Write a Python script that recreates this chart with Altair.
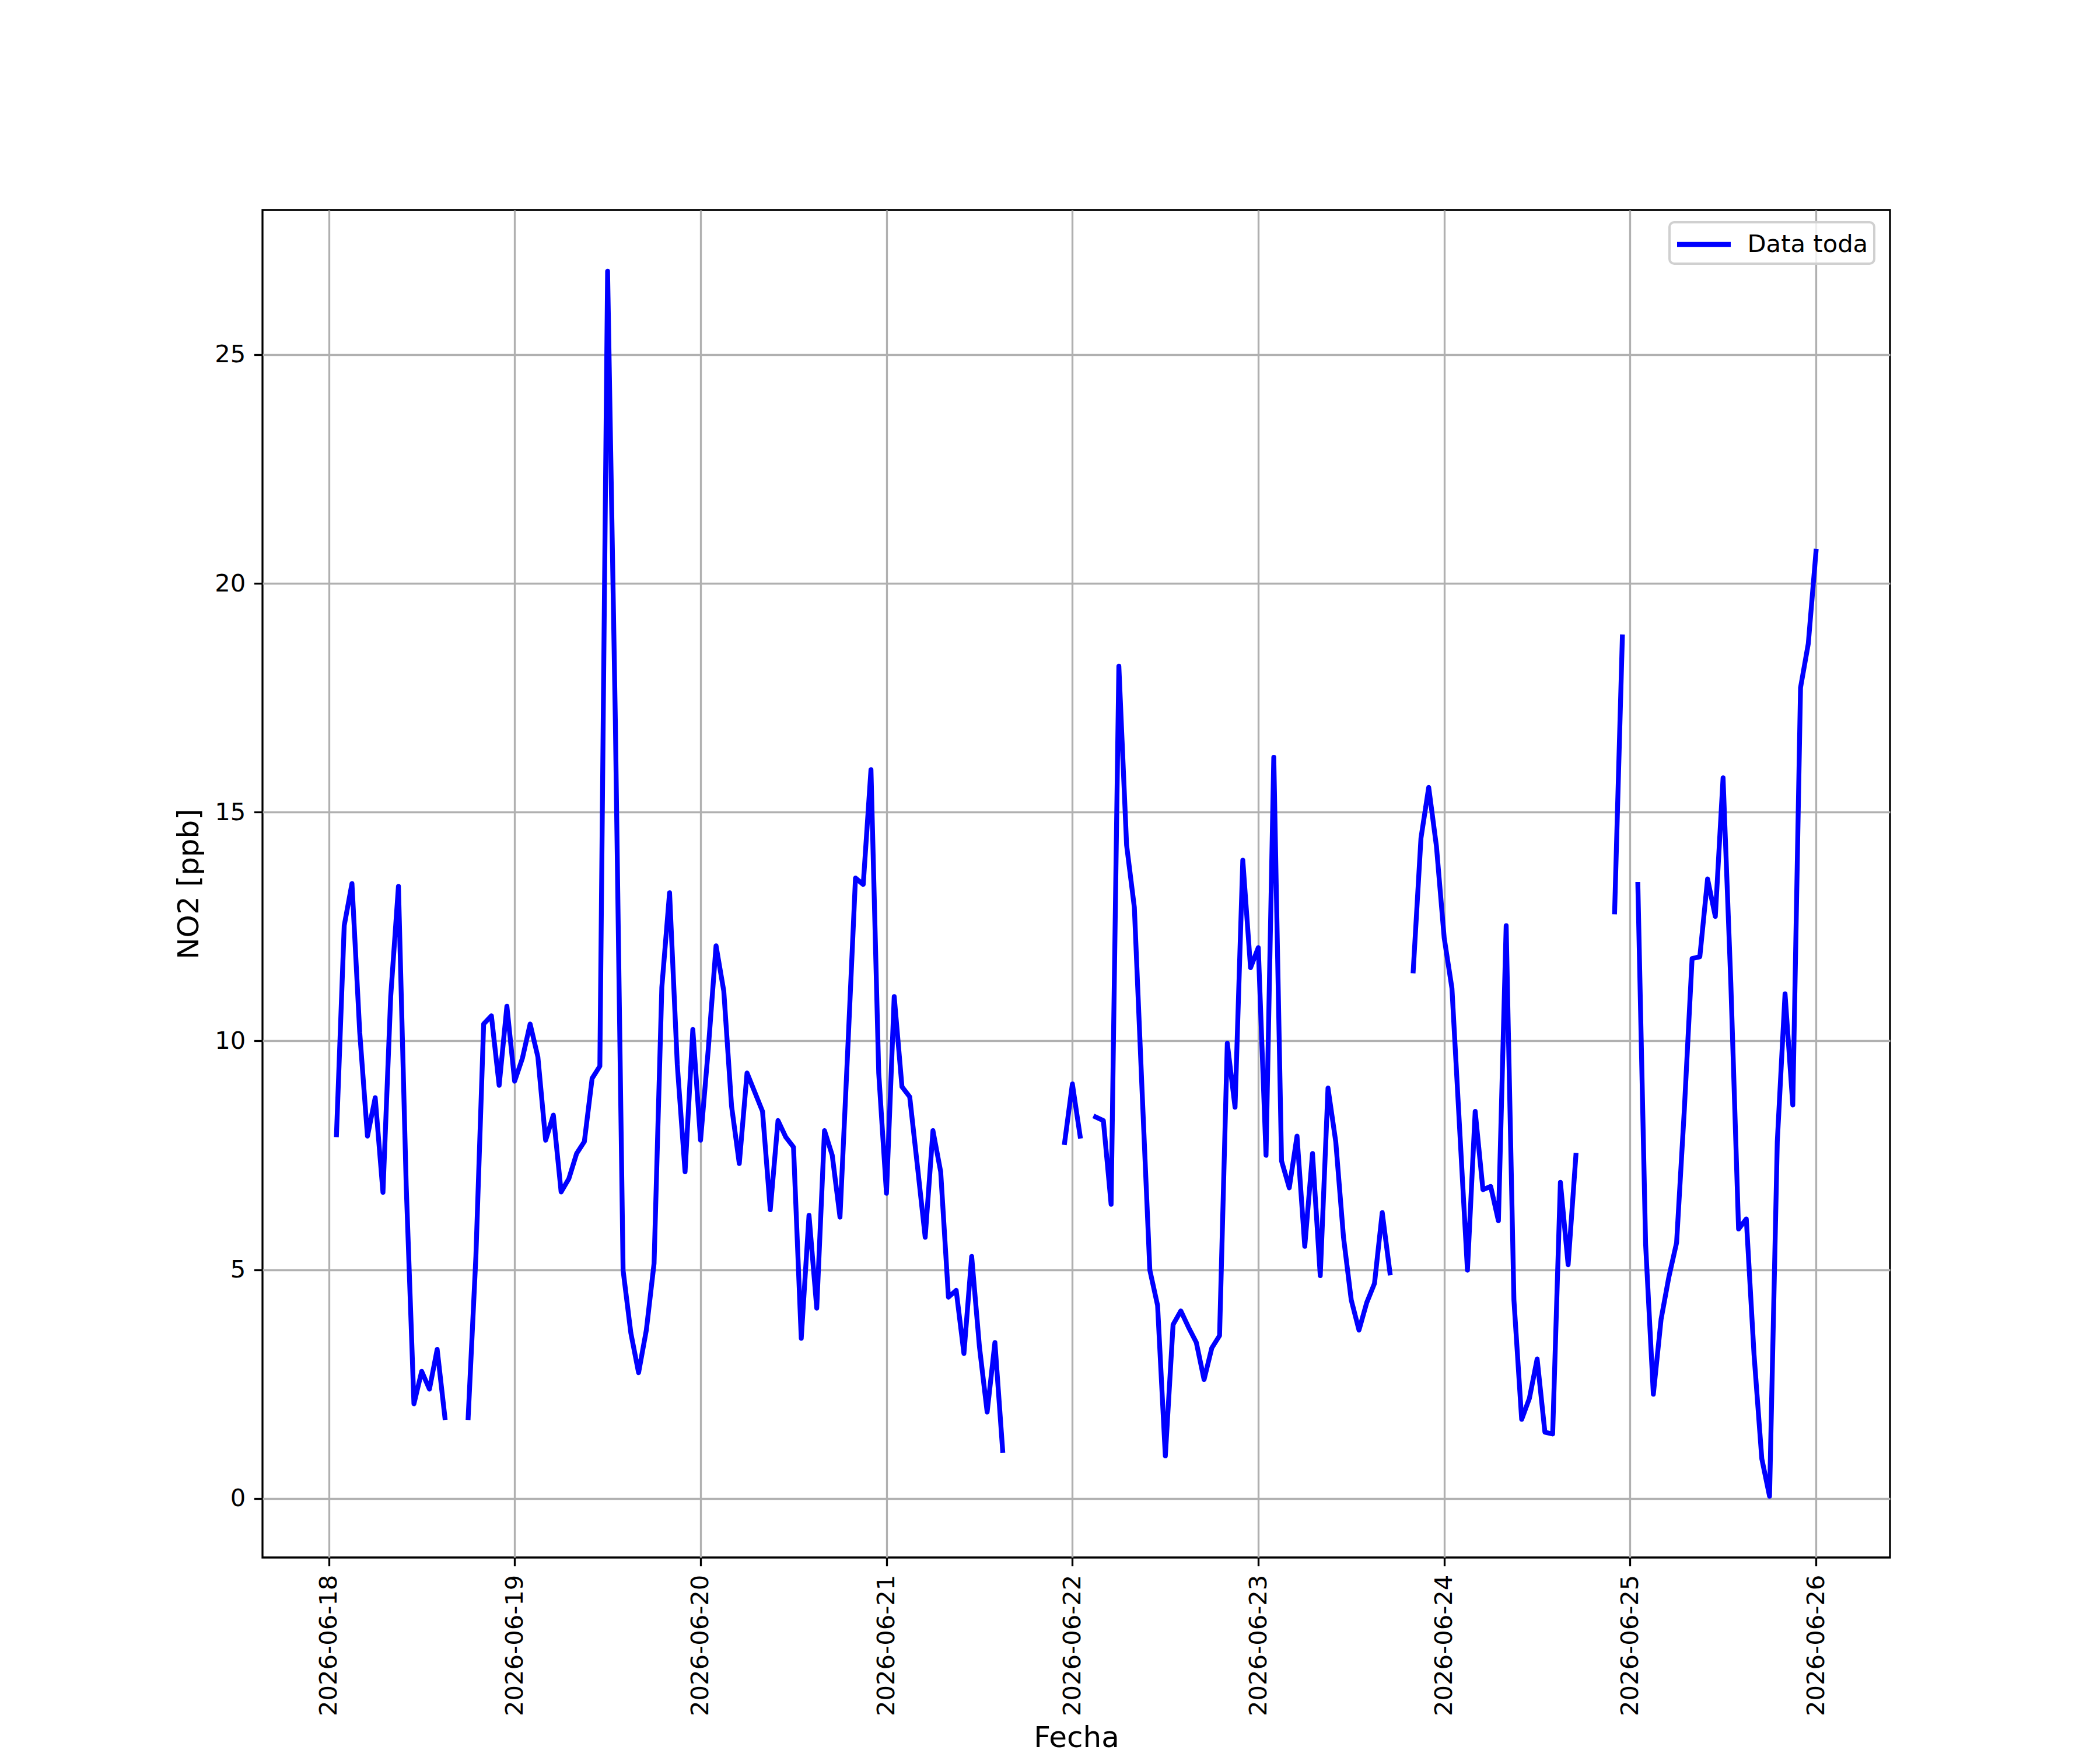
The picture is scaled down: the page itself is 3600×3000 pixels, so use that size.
import json
import altair as alt
import pandas as pd

# ---------------- data (hourly NO2, ppb; None = missing) ----------------
day_labels = ["2026-06-18", "2026-06-19", "2026-06-20", "2026-06-21", "2026-06-22",
              "2026-06-23", "2026-06-24", "2026-06-25", "2026-06-26"]

no2_06_18 = [None, 7.95, 12.52, 13.44, 10.19, 7.92, 8.76, 6.69, 10.97, 13.38, 6.85, 2.07,
             2.78, 2.39, 3.26, 1.77, None, None, 1.77, 5.3, 10.37, 10.55, 9.03, 10.76]
no2_06_19 = [9.12, 9.62, 10.37, 9.65, 7.83, 8.38, 6.70, 6.99, 7.54, 7.80, 9.18, 9.45,
             26.82, 17.0, 4.99, 3.62, 2.75, 3.68, 5.14, 11.17, 13.24, 9.47, 7.14, 10.25]
no2_06_20 = [7.83, 9.83, 12.08, 11.09, 8.58, 7.32, 9.30, 8.88, 8.46, 6.31, 8.26, 7.90,
             7.68, 3.50, 6.19, 4.16, 8.04, 7.50, 6.15, 9.8, 13.56, 13.42, 15.93, 9.30]
no2_06_21 = [6.67, 10.97, 9.00, 8.78, 7.26, 5.71, 8.04, 7.14, 4.40, 4.55, 3.17, 5.29,
             3.32, 1.89, 3.41, 1.05, None, None, None, None, None, None, None, 7.78]
no2_06_22 = [9.06, 7.92, None, 8.34, 8.26, 6.43, 18.19, 14.28, 12.92, 8.9, 4.99, 4.22,
             0.93, 3.80, 4.10, 3.74, 3.41, 2.60, 3.29, 3.56, 9.95, 8.55, 13.95, 11.60]
no2_06_23 = [12.04, 7.50, 16.20, 7.38, 6.79, 7.92, 5.51, 7.54, 4.87, 8.97, 7.80, 5.71,
             4.34, 3.68, 4.28, 4.70, 6.25, 4.93, None, None, 11.53, 14.43, 15.54, 14.25]
no2_06_24 = [12.25, 11.15, 8.06, 4.99, 8.46, 6.75, 6.82, 6.07, 12.52, 4.34, 1.73, 2.19,
             3.05, 1.45, 1.41, 6.91, 5.11, 7.50, None, None, None, None, 12.82, 18.83]
no2_06_25 = [None, 13.42, 5.56, 2.28, 3.92, 4.84, 5.59, 8.5, 11.80, 11.84, 13.54, 12.72,
             15.75, 11.27, 5.89, 6.11, 3.14, 0.87, 0.05, 7.80, 11.03, 8.60, 17.72, 18.68]
no2_06_26 = [20.70]

series_label = "Data toda"
x_title = "Fecha"
y_title = "NO2 [ppb]"
y_ticks = [0, 5, 10, 15, 20, 25]

daily = [no2_06_18, no2_06_19, no2_06_20, no2_06_21, no2_06_22,
         no2_06_23, no2_06_24, no2_06_25, no2_06_26]

# build long table; every run of consecutive hours is its own line piece
rows = []
seg = 0
in_gap = True
for d, vals in enumerate(daily):
    for h, v in enumerate(vals):
        if v is None:
            in_gap = True
            continue
        if in_gap:
            seg += 1
            in_gap = False
        rows.append({"hora": d * 24 + h, "NO2": v, "tramo": seg, "serie": series_label})
df = pd.DataFrame(rows)

# matplotlib-like autoscale (5 % margins)
xmin, xmax = df["hora"].min(), df["hora"].max()
ymin, ymax = df["NO2"].min(), df["NO2"].max()
xm = 0.05 * (xmax - xmin)
ym = 0.05 * (ymax - ymin)
x_domain = [float(xmin - xm), float(xmax + xm)]
y_domain = [float(ymin - ym), float(ymax + ym)]

x_ticks = [24 * i for i in range(len(day_labels))]
label_expr = json.dumps(day_labels) + "[round(datum.value / 24)]"

FONT = "DejaVu Sans"

chart = alt.Chart(df).mark_line(
    strokeWidth=8.3, strokeJoin="round", strokeCap="square"
).encode(
    x=alt.X(
        "hora:Q",
        scale=alt.Scale(domain=x_domain, nice=False, zero=False),
        axis=alt.Axis(values=x_ticks, labelExpr=label_expr, labelAngle=270,
                      title=x_title, labelFlush=False, labelOverlap=False,
                      labelLimit=2000, titleY=324, titleBaseline="alphabetic"),
    ),
    y=alt.Y(
        "NO2:Q",
        scale=alt.Scale(domain=y_domain, nice=False, zero=False),
        axis=alt.Axis(values=y_ticks, format="d", title=y_title,
                      labelFlush=False, labelOverlap=False, labelLimit=2000,
                      titlePadding=18),
    ),
    color=alt.Color(
        "serie:N",
        scale=alt.Scale(domain=[series_label], range=["#0000ff"]),
        legend=alt.Legend(
            title=None, orient="none", legendX=2412, legendY=21,
            symbolType="M-1,0L3,0", symbolSize=2116, symbolStrokeWidth=8.3,
            symbolOffset=-2, labelOffset=70, padding=10.5, labelLimit=2000,
            labelFont=FONT, labelFontSize=41.7, labelColor="black",
            fillColor="rgba(255,255,255,0.8)", strokeColor="#d0d0d0",
            cornerRadius=8,
        ),
    ),
    detail="tramo:N",
).properties(
    width=2790,
    height=2310,
    padding={"left": 442, "top": 352, "right": 352, "bottom": 345},
    autosize=alt.AutoSizeParams(type="none"),
).configure(
    background="white",
).configure_view(
    stroke="black", strokeWidth=3.3,
).configure_legend(
    strokeWidth=4,
).configure_axis(
    domain=False,
    grid=True, gridColor="#b0b0b0", gridWidth=3.3, gridOpacity=1,
    ticks=True, tickColor="black", tickWidth=3.3, tickSize=14.6,
    labelPadding=14.6, labelFont=FONT, labelFontSize=41.7, labelColor="black",
    titleFont=FONT, titleFontSize=50, titleFontWeight="normal", titleColor="black",
)

chart.save("out.html", embed_options={"renderer": "svg", "actions": False})
